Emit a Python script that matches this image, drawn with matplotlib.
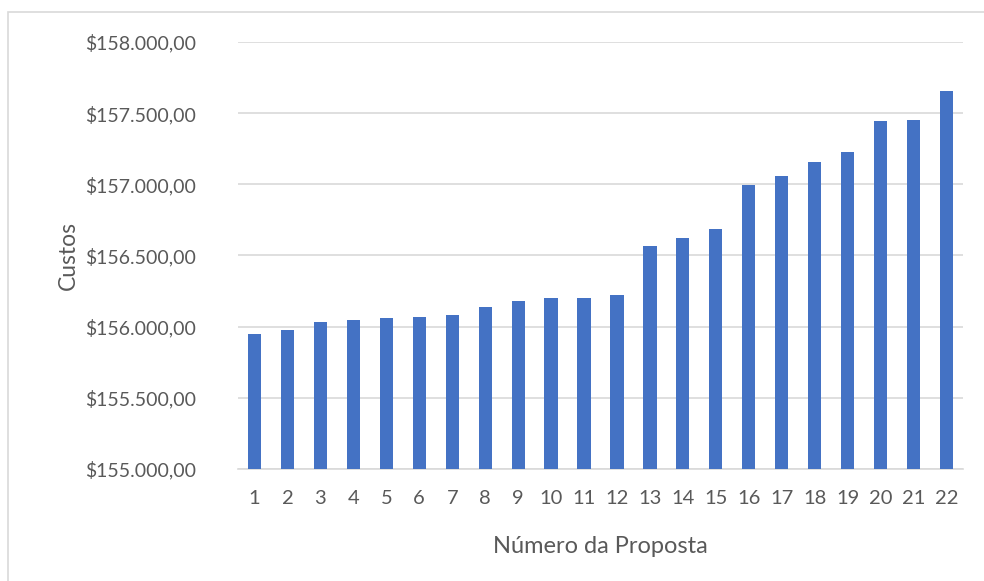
import matplotlib
matplotlib.use("Agg")
import matplotlib.pyplot as plt
from matplotlib.patches import Rectangle
from matplotlib.ticker import FuncFormatter

propostas = [str(i) for i in range(1, 23)]
custos = [155949, 155975, 156031, 156045, 156059, 156070, 156082, 156139,
          156183, 156202, 156200, 156221, 156570, 156626, 156685, 156998,
          157061, 157160, 157227, 157448, 157455, 157657]
y_ticks = [155000, 155500, 156000, 156500, 157000, 157500, 158000]

plt.rcParams['font.family'] = ['Lato', 'DejaVu Sans']
W, H = 984, 581
fig = plt.figure(figsize=(W / 100, H / 100), dpi=100)
fig.patch.set_facecolor('white')

# outer chart border (right/bottom edges fall outside the image)
fig.add_artist(Rectangle((8 / W, -0.05), 1.2, 1.05 - 12 / H, transform=fig.transFigure,
                         fill=False, edgecolor='#D9D9D9', linewidth=1.2))

left, right, top, bottom = 238, 963, 42, 469
ax = fig.add_axes([left / W, 1 - bottom / H, (right - left) / W, (bottom - top) / H])

x = list(range(len(propostas)))
ax.bar(x, custos, width=0.4, color='#4472C4', zorder=3)
ax.set_xlim(-0.5, len(propostas) - 0.5)
ax.set_ylim(155000, 158000)
ax.set_yticks(y_ticks)

def fmt(v, pos):
    s = f"{v:,.2f}"
    s = s.replace(',', 'X').replace('.', ',').replace('X', '.')
    return '$' + s

ax.yaxis.set_major_formatter(FuncFormatter(fmt))
ax.set_xticks(x)
ax.set_xticklabels(propostas)
ax.grid(axis='y', color='#D9D9D9', linewidth=1.2, zorder=0)
for s in ['top', 'right', 'left']:
    ax.spines[s].set_visible(False)
ax.spines['bottom'].set_color('#D9D9D9')
ax.spines['bottom'].set_linewidth(1.2)
ax.tick_params(axis='both', length=0, labelsize=14, colors='#595959')
ax.tick_params(axis='x', labelsize=14.5, pad=15)
ax.tick_params(axis='y', pad=30)
ax.set_xlabel('Número da Proposta', fontsize=17, color='#595959', labelpad=21)
ax.set_ylabel('Custos', fontsize=16.5, color='#595959', labelpad=5)

fig.savefig('out.png', dpi=100, facecolor='white')
